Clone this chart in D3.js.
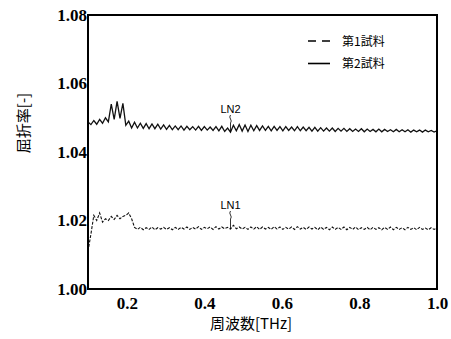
<!DOCTYPE html>
<html><head><meta charset="utf-8">
<script src="https://cdn.jsdelivr.net/npm/d3@7"></script>
<style>body{margin:0;background:#fff}svg{display:block}</style>
</head><body>
<script>
const freqStart = 0.1, freqStep = 0.0075;
const xTicks = [0.2, 0.4, 0.6, 0.8, 1.0];
const yTicks = [1.00, 1.02, 1.04, 1.06, 1.08];
const legendLabels = ["第1試料", "第2試料"];
const seriesNames = ["LN1", "LN2"];
const ln1 = [1.0110,1.0160,1.0215,1.0200,1.0222,1.0195,1.0205,1.0200,1.0212,1.0203,1.0215,1.0205,1.0212,1.0215,1.0222,1.0205,1.0180,
1.0174,1.0180,1.0173,1.0179,1.0174,1.0181,1.0173,1.0179,1.0175,1.0180,1.0174,1.0179,1.0173,1.0180,1.0174,1.0180,1.0175,1.0181,1.0174,1.0180,
1.0175,1.0182,1.0174,1.0180,1.0176,1.0181,1.0174,1.0182,1.0175,1.0181,1.0176,1.0180,1.0175,1.0186,1.0176,1.0181,1.0175,1.0180,1.0174,1.0181,
1.0175,1.0182,1.0174,1.0181,1.0175,1.0180,1.0174,1.0182,1.0175,1.0181,1.0174,1.0180,1.0175,1.0181,1.0174,1.0182,1.0175,1.0180,1.0174,1.0181,
1.0175,1.0180,1.0173,1.0181,1.0174,1.0180,1.0173,1.0181,1.0174,1.0180,1.0174,1.0181,1.0173,1.0180,1.0174,1.0181,1.0173,1.0179,1.0174,1.0180,
1.0173,1.0180,1.0174,1.0179,1.0173,1.0180,1.0174,1.0181,1.0173,1.0180,1.0174,1.0179,1.0173,1.0180,1.0174,1.0179,1.0173,1.0180,1.0174,1.0178,
1.0173,1.0179,1.0174,1.0178];
const ln2 = [1.0488,1.0480,1.0492,1.0481,1.0495,1.0484,1.0500,1.0488,1.0540,1.0495,1.0548,1.0498,1.0542,1.0478,1.0490,1.0470,1.0487,1.0470,1.0484,1.0469,
1.0483,1.0468,1.0482,1.0468,1.0481,1.0467,1.0479,1.0466,1.0478,1.0465,1.0476,
1.0465,1.0476,1.0464,1.0475,1.0465,1.0474,1.0464,1.0475,1.0463,1.0474,1.0464,1.0473,1.0463,1.0474,1.0462,1.0475,1.0460,1.0470,1.0458,1.0478,
1.0462,1.0480,1.0461,1.0479,1.0460,1.0478,1.0462,1.0477,1.0463,1.0476,1.0463,1.0475,1.0462,1.0475,1.0463,1.0474,1.0462,1.0474,1.0463,1.0473,
1.0462,1.0474,1.0462,1.0473,1.0462,1.0472,1.0461,1.0472,1.0461,1.0471,1.0461,1.0470,1.0461,1.0470,1.0460,1.0469,1.0461,1.0469,1.0460,1.0468,
1.0460,1.0467,1.0460,1.0468,1.0459,1.0467,1.0460,1.0466,1.0459,1.0467,1.0459,1.0466,1.0460,1.0465,1.0459,1.0466,1.0459,1.0465,1.0459,1.0465,
1.0458,1.0464,1.0459,1.0464,1.0458,1.0464,1.0459,1.0463,1.0458,1.0462];

const W = 451, H = 339;
const m = {l: 88, r: 14, t: 15, b: 50};
const svg = d3.select("body").append("svg").attr("width", W).attr("height", H);
const x = d3.scaleLinear().domain([0.1, 1.0]).range([m.l, W - m.r]);
const y = d3.scaleLinear().domain([1.00, 1.08]).range([H - m.b, m.t]);

const freq = i => freqStart + freqStep * i;
const line = d3.line().x((d, i) => x(freq(i))).y(d => y(d));

svg.append("path").datum(ln2).attr("d", line).attr("fill", "none")
  .attr("stroke", "#111").attr("stroke-width", 1.3);
svg.append("path").datum(ln1).attr("d", line).attr("fill", "none")
  .attr("stroke", "#111").attr("stroke-width", 1.1).attr("stroke-dasharray", "3,1.5");

svg.append("rect").attr("x", m.l).attr("y", m.t).attr("width", W - m.r - m.l).attr("height", H - m.b - m.t)
  .attr("fill", "none").attr("stroke", "#000").attr("stroke-width", 2);

const serif = "'Liberation Serif', 'DejaVu Serif', serif";
function styleTicks(g) {
  g.select(".domain").remove();
  g.selectAll("text").style("font-family", serif).style("font-weight", "bold")
    .style("font-size", "17px").style("fill", "#000");
}
const xAxis = svg.append("g").attr("transform", `translate(0,${H - m.b})`)
  .call(d3.axisBottom(x).tickValues(xTicks).tickSize(0).tickPadding(6).tickFormat(d3.format(".1f")));
styleTicks(xAxis);
xAxis.selectAll("text").attr("dy", "0.85em");

const yAxis = svg.append("g").attr("transform", `translate(${m.l},0)`)
  .call(d3.axisLeft(y).tickValues(yTicks).tickSize(0).tickPadding(1).tickFormat(d3.format(".2f")));
styleTicks(yAxis);

svg.append("text").attr("x", 251).attr("y", 329).attr("text-anchor", "middle")
  .attr("font-family", "Noto Sans CJK JP, sans-serif").attr("font-size", 15).text("周波数[THz]");
svg.append("text").attr("transform", "translate(29,123) rotate(-90)").attr("text-anchor", "middle")
  .attr("font-family", "Noto Sans CJK JP, sans-serif").attr("font-size", 15).text("屈折率[-]");

const lg = svg.append("g");
[0, 1].forEach(k => {
  const ly = 41 + k * 22.5;
  lg.append("line").attr("x1", 308).attr("x2", 330).attr("y1", ly).attr("y2", ly)
    .attr("stroke", "#000").attr("stroke-width", 1.6).attr("stroke-dasharray", k === 0 ? "8,6" : null);
  lg.append("text").attr("x", 342).attr("y", ly + 4.5).attr("font-family", "Noto Sans CJK JP, sans-serif")
    .attr("font-size", 12).text(legendLabels[k]);
});

const lbl = [{name: seriesNames[1], i: 49, arr: ln2, ty: 113}, {name: seriesNames[0], i: 49, arr: ln1, ty: 209}];
lbl.forEach(o => {
  const px = x(freq(o.i));
  svg.append("text").attr("x", px).attr("y", o.ty).attr("text-anchor", "middle")
    .attr("font-family", "Liberation Sans, Arial, sans-serif").attr("font-size", 11).text(o.name);
  svg.append("path").attr("d", `M${px},${o.ty + 2} q-1.5,2 0,4 q1.5,2 0,4 L${px},${y(o.arr[o.i])}`)
    .attr("fill", "none").attr("stroke", "#000").attr("stroke-width", 0.8);
});
</script>
</body></html>
